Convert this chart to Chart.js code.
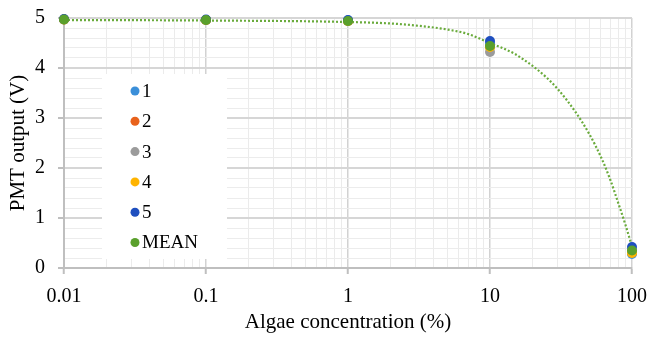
<!DOCTYPE html>
<html>
<head>
<meta charset="utf-8">
<script src="https://cdn.jsdelivr.net/npm/chart.js@4"></script>
<style>
  html, body { margin: 0; padding: 0; background: #fff; }
  #wrap { width: 650px; height: 338px; }
</style>
</head>
<body>
<div id="wrap"><canvas id="chart" width="650" height="338"></canvas></div>
<script>
// --- DATA ---
const concentrations = [0.01, 0.1, 1, 10, 100];
const run1 = [4.97, 4.96, 4.95, 4.48, 0.28];
const run2 = [4.97, 4.96, 4.94, 4.42, 0.31];
const run3 = [4.97, 4.96, 4.94, 4.32, 0.33];
const run4 = [4.97, 4.96, 4.94, 4.42, 0.30];
const run5 = [4.98, 4.97, 4.96, 4.54, 0.42];
const meanRun = [4.97, 4.96, 4.94, 4.44, 0.35];

// trend curve
const trendX = [0.01, 0.1, 1, 2, 3, 5, 7, 10, 12, 15, 17, 20, 25, 30, 40, 50, 60, 70, 80, 90, 100];
const trendY = [4.96, 4.95, 4.92, 4.89, 4.85, 4.77, 4.68, 4.5, 4.41, 4.28, 4.18, 4.04, 3.81, 3.58, 3.12, 2.68, 2.24, 1.78, 1.3, 0.86, 0.43];

const seriesNames = ['1', '2', '3', '4', '5', 'MEAN'];
const seriesColors = ['#3b8fd9', '#e8621c', '#9b9b9b', '#ffb400', '#1f4fbf', '#5aa02c'];
const decades = [0.01, 0.1, 1, 10, 100];
const xTickLabels = ['0.01', '0.1', '1', '10', '100'];

const FONT = "'Liberation Serif', 'Times New Roman', serif";

function pts(ys) {
    return concentrations.map((x, i) => ({ x: x, y: ys[i] }));
}

// log minor ticks: 1..9 in each decade
const xTickValues = [];
decades.forEach((d, i) => {
    if (i === decades.length - 1) { xTickValues.push(d); return; }
    for (let k = 1; k <= 9; k++) xTickValues.push(+(d * k).toPrecision(6));
});

function isDecade(v) {
    return decades.some(d => Math.abs(v - d) / d < 1e-6);
}
function isInt(v) {
    return Math.abs(v - Math.round(v)) < 1e-6;
}

const allRuns = [run1, run2, run3, run4, run5, meanRun];
const datasets = allRuns.map((ys, i) => ({
    label: seriesNames[i],
    data: pts(ys),
    backgroundColor: seriesColors[i],
    borderColor: seriesColors[i],
    pointRadius: 5,
    pointHoverRadius: 5,
    pointBorderWidth: 0,
    showLine: false,
    clip: false,
    order: 6 - i
}));

datasets.push({
    label: 'trend',
    data: trendX.map((x, i) => ({ x: x, y: trendY[i] })),
    showLine: true,
    borderColor: '#6aab3c',
    borderWidth: 2.2,
    borderDash: [2, 2],
    borderCapStyle: 'butt',
    cubicInterpolationMode: 'monotone',
    pointRadius: 0,
    fill: false,
    clip: false,
    order: 10
});

// legend box drawn inside the plot area
const insideLegend = {
    id: 'insideLegend',
    afterDatasetsDraw(chart) {
        const ctx = chart.ctx;
        ctx.save();
        ctx.fillStyle = '#fff';
        ctx.fillRect(102, 74, 125, 185);
        ctx.font = '19px ' + FONT;
        ctx.textBaseline = 'middle';
        ctx.textAlign = 'left';
        seriesNames.forEach((name, i) => {
            const y = 91 + i * 30.3;
            ctx.beginPath();
            ctx.fillStyle = seriesColors[i];
            ctx.arc(135, y, 4.5, 0, Math.PI * 2);
            ctx.fill();
            ctx.fillStyle = '#000';
            ctx.fillText(name, 142, y + 1);
        });
        ctx.restore();
    }
};

new Chart(document.getElementById('chart'), {
    type: 'scatter',
    data: { datasets: datasets },
    plugins: [insideLegend],
    options: {
        responsive: false,
        animation: false,
        layout: { padding: { top: 18, right: 18, left: 0, bottom: 0 } },
        plugins: {
            legend: { display: false },
            tooltip: { enabled: false }
        },
        scales: {
            x: {
                type: 'logarithmic',
                min: 0.01,
                max: 100,
                afterBuildTicks: (scale) => {
                    scale.ticks = xTickValues.map(v => ({ value: v }));
                },
                afterFit: (scale) => {
                    scale.height = 70;
                    scale.paddingLeft = 0;
                    scale.paddingRight = 0;
                },
                ticks: {
                    autoSkip: false,
                    maxRotation: 0,
                    padding: 11,
                    color: '#000',
                    font: { family: FONT, size: 20 },
                    callback: (v) => {
                        const i = decades.findIndex(d => Math.abs(v - d) / d < 1e-6);
                        return i >= 0 ? xTickLabels[i] : '';
                    }
                },
                grid: {
                    color: (c) => isDecade(c.tick.value) ? '#d2d2d2' : '#ebebeb',
                    lineWidth: (c) => isDecade(c.tick.value) ? 1.5 : 1,
                    tickLength: 6,
                    tickColor: (c) => isDecade(c.tick.value) ? '#bfbfbf' : 'rgba(0,0,0,0)',
                    tickWidth: 2
                },
                border: { color: '#bfbfbf', width: 2 },
                title: {
                    display: true,
                    text: 'Algae concentration (%)',
                    color: '#000',
                    font: { family: FONT, size: 21 },
                    padding: { top: 0, bottom: 3 }
                }
            },
            y: {
                min: 0,
                max: 5,
                afterFit: (scale) => {
                    scale.width = 64;
                    scale.paddingTop = 0;
                    scale.paddingBottom = 0;
                },
                ticks: {
                    stepSize: 0.2,
                    autoSkip: false,
                    padding: 13,
                    color: '#000',
                    font: { family: FONT, size: 20 },
                    callback: (v) => isInt(v) ? String(Math.round(v)) : ''
                },
                grid: {
                    color: (c) => isInt(c.tick.value) ? '#d6d6d6' : '#ececec',
                    lineWidth: (c) => isInt(c.tick.value) ? 2 : 1,
                    tickLength: 6,
                    tickColor: (c) => isInt(c.tick.value) ? '#bfbfbf' : 'rgba(0,0,0,0)',
                    tickWidth: 2
                },
                border: { color: '#bfbfbf', width: 2 },
                title: {
                    display: true,
                    text: 'PMT output (V)',
                    color: '#000',
                    font: { family: FONT, size: 21 },
                    padding: { top: 6, bottom: 0 }
                }
            }
        }
    }
});
</script>
</body>
</html>
